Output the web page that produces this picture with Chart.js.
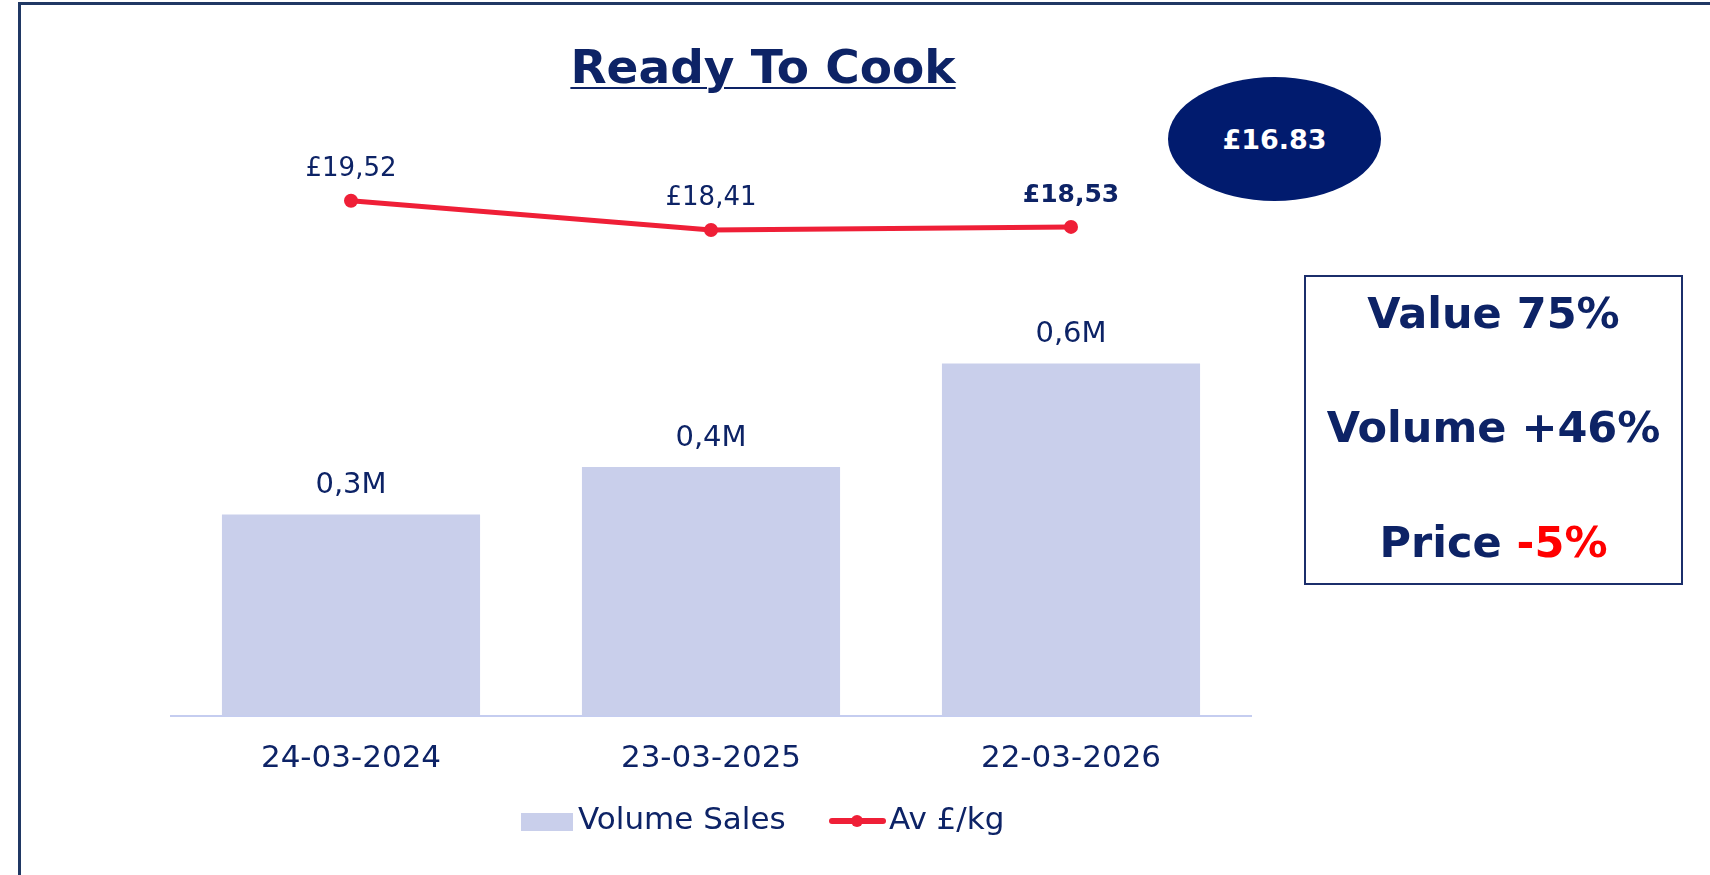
<!DOCTYPE html>
<html>
<head>
<meta charset="UTF-8">
<title>Ready To Cook</title>
<script src="https://cdn.jsdelivr.net/npm/chart.js"></script>
<style>
	body { margin: 0; background: #fff; font-family: 'DejaVu Sans', sans-serif; color: #0d2366; }
	#page { position: relative; width: 1710px; height: 875px; overflow: hidden; }
	#frame { position: absolute; left: 18px; top: 2px; width: 1720px; height: 900px; border: 3px solid #203864; }
	#container { position: absolute; left: 0; top: 0; width: 1710px; height: 875px; }
	#title { position: absolute; left: 763px; top: 43px; transform: translateX(-50%); font-size: 47px; line-height: 1; font-weight: bold; white-space: nowrap;
		text-decoration: underline; text-decoration-thickness: 2px; text-underline-offset: 4px; }
	#bubble { position: absolute; left: 1168px; top: 77px; width: 213px; height: 124px; border-radius: 50%; background: #011b6e; color: #fff;
		display: flex; align-items: center; justify-content: center; font-size: 27px; font-weight: bold; }
	#kpi { position: absolute; left: 1304px; top: 275px; width: 379px; height: 310px; box-sizing: border-box; border: 2px solid #1b2e6b; }
	#kpi div { position: absolute; left: 0; width: 100%; text-align: center; font-size: 43px; line-height: 1; font-weight: bold; white-space: nowrap; }
	.legend-item { position: absolute; top: 803px; font-size: 31px; line-height: 1; white-space: nowrap; }
</style>
</head>
<body>
<div id="page">
	<div id="frame"></div>
	<div id="container">
		<canvas id="combocanvas"></canvas>
	</div>
	<div id="title"></div>
	<div id="bubble"></div>
	<div id="kpi">
		<div id="kpiValue" style="top: 15px"></div>
		<div id="kpiVolume" style="top: 129px"></div>
		<div id="kpiPrice" style="top: 244px"></div>
	</div>
	<div id="legendBar" style="position:absolute; left:521px; top:813px; width:52px; height:18px; background:#c9cfeb;"></div>
	<div id="legendBarText" class="legend-item" style="left:578px;"></div>
	<div style="position:absolute; left:829px; top:818px; width:57px; height:6px; background:#ef1f37; border-radius:3px;"></div>
	<div style="position:absolute; left:851px; top:815px; width:12px; height:12px; background:#ef1f37; border-radius:50%;"></div>
	<div id="legendLineText" class="legend-item" style="left:889px;"></div>
</div>
<script>

var titleText = 'Ready To Cook';
var categories = ['24-03-2024', '23-03-2025', '22-03-2026'];
var seriesNames = ['Volume Sales', 'Av £/kg'];
var volumeSales = [0.34, 0.42, 0.595]; // millions
var avPrice = [19.52, 18.41, 18.53]; // £ per kg
var benchmarkPrice = '£16.83';
var kpiValue = '75%';
var kpiVolume = '+46%';
var kpiPrice = '-5%';

var navy = '#0d2366';
var red = '#ef1f37';

document.getElementById('title').textContent = titleText;
document.getElementById('bubble').textContent = benchmarkPrice;
document.getElementById('kpiValue').textContent = 'Value ' + kpiValue;
document.getElementById('kpiVolume').textContent = 'Volume ' + kpiVolume;
document.getElementById('kpiPrice').innerHTML = 'Price <span style="color:#ff0000">' + kpiPrice + '</span>';
document.getElementById('legendBarText').textContent = seriesNames[0];
document.getElementById('legendLineText').textContent = seriesNames[1];

function fmtVolume(v) { return v.toFixed(1).replace('.', ',') + 'M'; }
function fmtPrice(v) { return '£' + v.toFixed(2).replace('.', ','); }

// labels above bars and points
var valueLabels = {
	id: 'valueLabels',
	afterDatasetsDraw: function(chart) {
		var ctx = chart.ctx;
		ctx.save();
		ctx.fillStyle = navy;
		ctx.textAlign = 'center';
		ctx.textBaseline = 'alphabetic';
		chart.getDatasetMeta(0).data.forEach(function(bar, i) {
			ctx.font = '29px "DejaVu Sans"';
			ctx.fillText(fmtVolume(volumeSales[i]), bar.x, bar.y - 21);
		});
		var pts = chart.getDatasetMeta(1).data;
		pts.forEach(function(pt, i) {
			var last = i === pts.length - 1;
			ctx.font = (last ? 'bold 25px' : '26px') + ' "DejaVu Sans"';
			ctx.fillText(fmtPrice(avPrice[i]), pt.x, pt.y - 25);
		});
		ctx.restore();
	}
};

window.onload = function() {
	Chart.defaults.font.family = 'DejaVu Sans';
	var ctx = document.getElementById('combocanvas').getContext('2d');
	window.myChart = new Chart(ctx, {
		type: 'bar',
		data: {
			labels: categories,
			datasets: [{
				type: 'bar',
				label: seriesNames[0],
				data: volumeSales,
				backgroundColor: '#c9cfeb',
				categoryPercentage: 1,
				barPercentage: 0.717,
				yAxisID: 'y',
				order: 1
			}, {
				type: 'line',
				label: seriesNames[1],
				data: avPrice,
				borderColor: red,
				backgroundColor: red,
				borderWidth: 5,
				pointRadius: 7,
				pointBackgroundColor: red,
				pointBorderWidth: 0,
				tension: 0,
				yAxisID: 'y2',
				order: 0
			}]
		},
		options: {
			responsive: true,
			maintainAspectRatio: false,
			animation: false,
			layout: { padding: { left: 171, right: 459, top: 100, bottom: 72 } },
			plugins: {
				legend: { display: false },
				tooltip: { enabled: false }
			},
			scales: {
				x: {
					grid: { display: false, drawTicks: false },
					border: { display: true, color: '#c5cdf0', width: 2 },
					ticks: { color: navy, font: { size: 31 }, padding: 25 }
				},
				y: { display: false, min: 0, max: 1.04 },
				y2: { display: false, min: 0, max: 23.34 }
			}
		},
		plugins: [valueLabels]
	});
};

</script>
</body>
</html>
